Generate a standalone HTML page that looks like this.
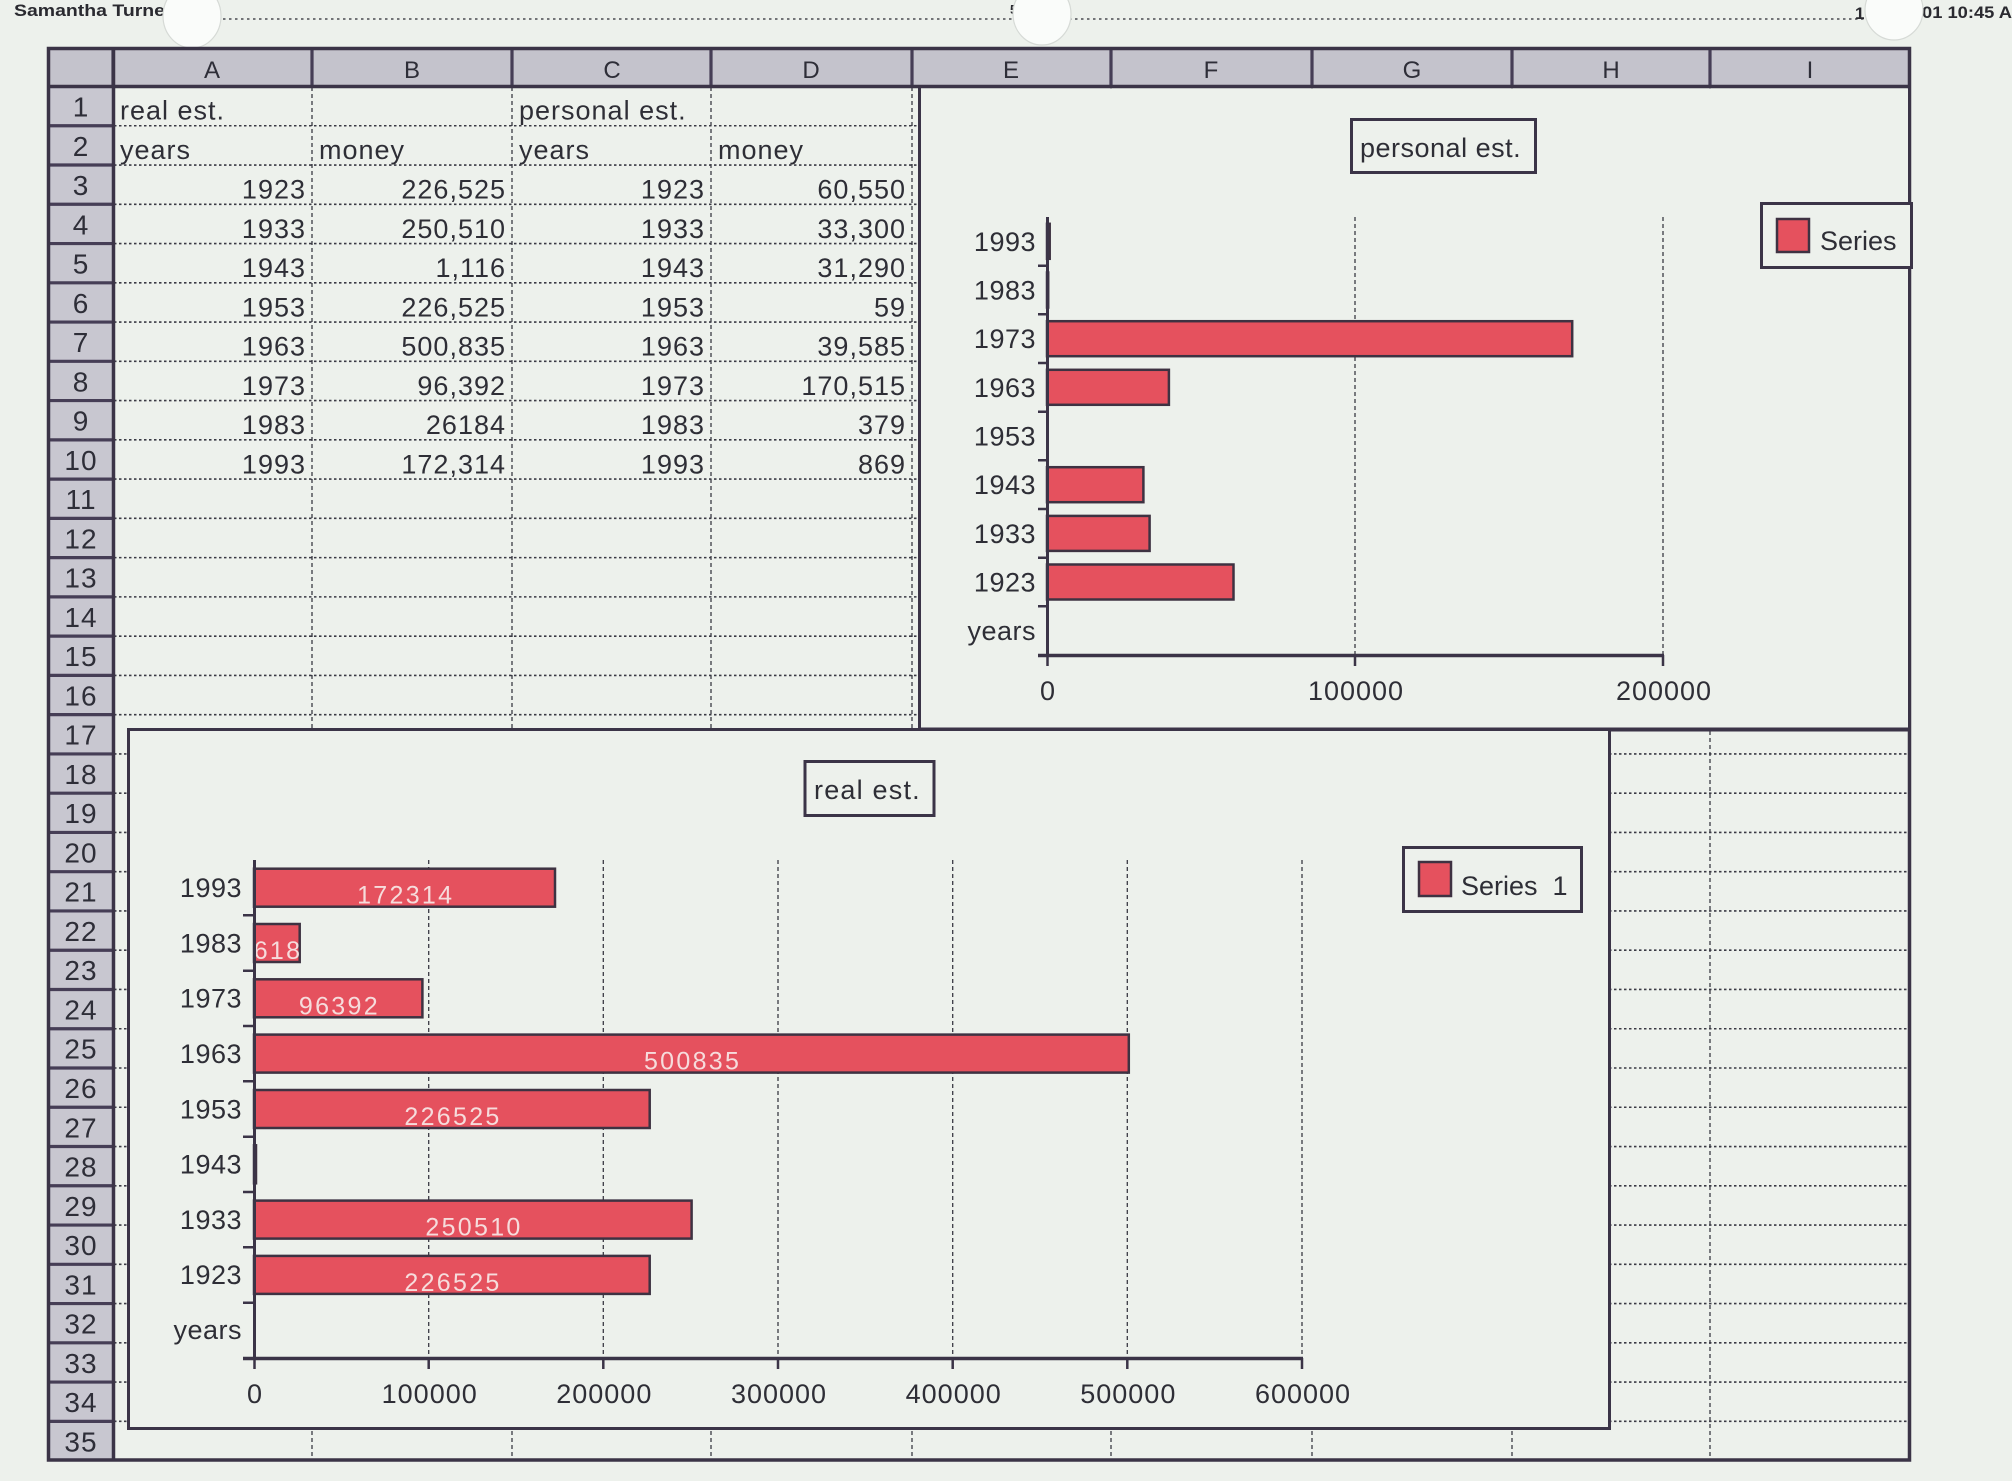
<!DOCTYPE html>
<html><head><meta charset="utf-8"><style>
html,body{margin:0;padding:0;background:#edf1ec;}
svg{display:block;}
text{font-family:"Liberation Sans",sans-serif;}
</style></head><body>
<svg width="2012" height="1481" viewBox="0 0 2012 1481" xmlns="http://www.w3.org/2000/svg">
<rect x="0" y="0" width="2012" height="1481" fill="#edf1ec"/>

<!-- page header -->
<line x1="205" y1="19" x2="1912" y2="19" stroke="#4a4a50" stroke-width="1.6" stroke-dasharray="2.5 3.5"/>
<text x="14" y="16" font-size="17" font-weight="bold" fill="#2a2a30" textLength="151" lengthAdjust="spacingAndGlyphs">Samantha Turne</text>
<text x="1010" y="14" font-size="13" font-weight="bold" fill="#2a2a30">5</text>
<text x="1855" y="19" font-size="17" font-weight="bold" fill="#2a2a30">1</text>
<text x="1922" y="18" font-size="17" font-weight="bold" fill="#2a2a30" textLength="90" lengthAdjust="spacingAndGlyphs">01 10:45 A</text>
<ellipse cx="192" cy="16" rx="29" ry="32" fill="#fafcfa" stroke="#d6dad6" stroke-width="1.2"/>
<ellipse cx="1042" cy="14" rx="29" ry="31" fill="#fafcfa" stroke="#d6dad6" stroke-width="1.2"/>
<ellipse cx="1894" cy="10" rx="29" ry="30" fill="#fafcfa" stroke="#d6dad6" stroke-width="1.2"/>

<!-- header row & row header backgrounds -->
<rect x="47" y="47" width="1863" height="40" fill="#c4c3cc"/>
<rect x="47" y="87" width="67" height="1374" fill="#c8c7d0"/>

<!-- cell gridlines -->
<path d="M114 125.76H1910M114 165.02H1910M114 204.28H1910M114 243.54H1910M114 282.8H1910M114 322.06H1910M114 361.32H1910M114 400.58H1910M114 439.84H1910M114 479.1H1910M114 518.36H1910M114 557.62H1910M114 596.88H1910M114 636.14H1910M114 675.4H1910M114 714.66H1910M114 753.92H1910M114 793.18H1910M114 832.44H1910M114 871.7H1910M114 910.96H1910M114 950.22H1910M114 989.48H1910M114 1028.74H1910M114 1068H1910M114 1107.26H1910M114 1146.52H1910M114 1185.78H1910M114 1225.04H1910M114 1264.3H1910M114 1303.56H1910M114 1342.82H1910M114 1382.08H1910M114 1421.34H1910" stroke="#3a3a44" stroke-width="1.6" stroke-dasharray="2.5 2.5" fill="none"/>
<path d="M312 87V1461M512 87V1461M711 87V1461M912 87V1461M1111 87V1461M1312 87V1461M1512 87V1461M1710 87V1461" stroke="#3a3a44" stroke-width="1.3" stroke-dasharray="4 3" fill="none"/>

<!-- row header separators -->
<path d="M47 125.76H114M47 165.02H114M47 204.28H114M47 243.54H114M47 282.8H114M47 322.06H114M47 361.32H114M47 400.58H114M47 439.84H114M47 479.1H114M47 518.36H114M47 557.62H114M47 596.88H114M47 636.14H114M47 675.4H114M47 714.66H114M47 753.92H114M47 793.18H114M47 832.44H114M47 871.7H114M47 910.96H114M47 950.22H114M47 989.48H114M47 1028.74H114M47 1068H114M47 1107.26H114M47 1146.52H114M47 1185.78H114M47 1225.04H114M47 1264.3H114M47 1303.56H114M47 1342.82H114M47 1382.08H114M47 1421.34H114" stroke="#463e56" stroke-width="3.2" fill="none"/>
<!-- column header separators -->
<path d="M113 47V87M312 47V87M512 47V87M711 47V87M912 47V87M1111 47V87M1312 47V87M1512 47V87M1710 47V87" stroke="#463e56" stroke-width="3.2" fill="none"/>
<line x1="47" y1="86.5" x2="1910" y2="86.5" stroke="#3b3447" stroke-width="3.5"/>
<line x1="113.5" y1="47" x2="113.5" y2="1461" stroke="#3b3447" stroke-width="3.5"/>
<rect x="48.5" y="48.5" width="1861" height="1411.5" fill="none" stroke="#3b3447" stroke-width="3.5"/>

<!-- column letters -->
<g font-size="24" fill="#2e2e38" text-anchor="middle">
<text x="212" y="78">A</text><text x="412" y="78">B</text><text x="612" y="78">C</text><text x="811" y="78">D</text><text x="1011" y="78">E</text><text x="1211" y="78">F</text><text x="1412" y="78">G</text><text x="1611" y="78">H</text><text x="1810" y="78">I</text>
</g>

<!-- row numbers -->
<g font-size="28" fill="#2e2e38" text-anchor="middle" letter-spacing="1">
<text x="81" y="116.5">1</text><text x="81" y="155.8">2</text><text x="81" y="195">3</text><text x="81" y="234.3">4</text><text x="81" y="273.5">5</text><text x="81" y="312.8">6</text><text x="81" y="352.1">7</text><text x="81" y="391.3">8</text><text x="81" y="430.6">9</text><text x="81" y="469.8">10</text><text x="81" y="509.1">11</text><text x="81" y="548.4">12</text><text x="81" y="587.6">13</text><text x="81" y="626.9">14</text><text x="81" y="666.1">15</text><text x="81" y="705.4">16</text><text x="81" y="744.7">17</text><text x="81" y="783.9">18</text><text x="81" y="823.2">19</text><text x="81" y="862.4">20</text><text x="81" y="901.7">21</text><text x="81" y="941">22</text><text x="81" y="980.2">23</text><text x="81" y="1019.5">24</text><text x="81" y="1058.7">25</text><text x="81" y="1098">26</text><text x="81" y="1137.3">27</text><text x="81" y="1176.5">28</text><text x="81" y="1215.8">29</text><text x="81" y="1255">30</text><text x="81" y="1294.3">31</text><text x="81" y="1333.6">32</text><text x="81" y="1372.8">33</text><text x="81" y="1412.1">34</text><text x="81" y="1451.3">35</text>
</g>

<!-- cell text -->
<g font-size="27" fill="#2e2e36" letter-spacing="1">
<text x="120" y="119.5">real est.</text>
<text x="519" y="119.5">personal est.</text>
<text x="120" y="158.8">years</text><text x="319" y="158.8">money</text><text x="519" y="158.8">years</text><text x="718" y="158.8">money</text>
</g>
<g font-size="27" fill="#2e2e36" letter-spacing="1" text-anchor="end">
<text x="306" y="198.5">1923</text><text x="506" y="198.5">226,525</text><text x="705" y="198.5">1923</text><text x="906" y="198.5">60,550</text>
<text x="306" y="237.8">1933</text><text x="506" y="237.8">250,510</text><text x="705" y="237.8">1933</text><text x="906" y="237.8">33,300</text>
<text x="306" y="277">1943</text><text x="506" y="277">1,116</text><text x="705" y="277">1943</text><text x="906" y="277">31,290</text>
<text x="306" y="316.3">1953</text><text x="506" y="316.3">226,525</text><text x="705" y="316.3">1953</text><text x="906" y="316.3">59</text>
<text x="306" y="355.6">1963</text><text x="506" y="355.6">500,835</text><text x="705" y="355.6">1963</text><text x="906" y="355.6">39,585</text>
<text x="306" y="394.8">1973</text><text x="506" y="394.8">96,392</text><text x="705" y="394.8">1973</text><text x="906" y="394.8">170,515</text>
<text x="306" y="434.1">1983</text><text x="506" y="434.1">26184</text><text x="705" y="434.1">1983</text><text x="906" y="434.1">379</text>
<text x="306" y="473.3">1993</text><text x="506" y="473.3">172,314</text><text x="705" y="473.3">1993</text><text x="906" y="473.3">869</text>
</g>

<!-- ============ CHART 1 : personal est. ============ -->
<rect x="918" y="88.5" width="991" height="641" fill="#edf1ec"/>
<line x1="919.5" y1="87" x2="919.5" y2="731" stroke="#3b3447" stroke-width="3"/>
<line x1="918" y1="729.5" x2="1910" y2="729.5" stroke="#3b3447" stroke-width="4"/>
<line x1="1909.5" y1="87" x2="1909.5" y2="731" stroke="#3b3447" stroke-width="3"/>

<rect x="1351.5" y="119.5" width="184" height="53" fill="#edf1ec" stroke="#3b3447" stroke-width="3"/>
<text x="1360" y="157" font-size="27" fill="#2e2e36" letter-spacing="0.5">personal est.</text>

<rect x="1761.5" y="203.5" width="150" height="64" fill="#edf1ec" stroke="#3b3447" stroke-width="3"/>
<rect x="1777" y="219" width="32" height="33" fill="#e5515e" stroke="#3e3242" stroke-width="2.5"/>
<text x="1820" y="250" font-size="27" fill="#2e2e36">Series</text>

<path d="M1355 217V655M1663 217V655" stroke="#3a3a44" stroke-width="1.3" stroke-dasharray="4 3" fill="none"/>

<g fill="#e5515e" stroke="#3e3242" stroke-width="2.5">
<rect x="1047" y="223.8" width="2.7" height="35"/>
<rect x="1047" y="272.5" width="1.2" height="35"/>
<rect x="1047" y="321.2" width="525.2" height="35"/>
<rect x="1047" y="369.8" width="121.9" height="35"/>
<rect x="1047" y="467.2" width="96.4" height="35"/>
<rect x="1047" y="515.9" width="102.6" height="35"/>
<rect x="1047" y="564.5" width="186.5" height="35"/>
</g>

<line x1="1047.5" y1="217" x2="1047.5" y2="657" stroke="#3b3447" stroke-width="3"/>
<line x1="1038" y1="655.5" x2="1664" y2="655.5" stroke="#3b3447" stroke-width="3.5"/>
<path d="M1038 265.7H1047M1038 314.3H1047M1038 363H1047M1038 411.7H1047M1038 460.3H1047M1038 509H1047M1038 557.7H1047M1038 606.3H1047M1047.5 655V666M1355 655V666M1663 655V666" stroke="#3b3447" stroke-width="2.5" fill="none"/>

<g font-size="27" fill="#2e2e36" text-anchor="end" letter-spacing="0.5">
<text x="1036" y="251">1993</text><text x="1036" y="299.5">1983</text><text x="1036" y="348.2">1973</text><text x="1036" y="396.8">1963</text><text x="1036" y="445.5">1953</text><text x="1036" y="494.2">1943</text><text x="1036" y="542.9">1933</text><text x="1036" y="591.5">1923</text><text x="1036" y="640">years</text>
</g>
<g font-size="27" fill="#2e2e36" text-anchor="middle" letter-spacing="1">
<text x="1048" y="700">0</text><text x="1356" y="700">100000</text><text x="1664" y="700">200000</text>
</g>

<!-- ============ CHART 2 : real est. ============ -->
<rect x="128.5" y="729.5" width="1481" height="699" fill="#edf1ec" stroke="#3b3447" stroke-width="3"/>

<rect x="805" y="761.5" width="129" height="54" fill="#edf1ec" stroke="#3b3447" stroke-width="3"/>
<text x="814" y="799" font-size="27" fill="#2e2e36" letter-spacing="1.2">real est.</text>

<rect x="1403.5" y="847.5" width="178" height="64" fill="#edf1ec" stroke="#3b3447" stroke-width="3"/>
<rect x="1419" y="862" width="32" height="34" fill="#e5515e" stroke="#3e3242" stroke-width="2.5"/>
<text x="1461" y="895" font-size="27" fill="#2e2e36" xml:space="preserve">Series  1</text>

<path d="M428.7 860V1358M603.3 860V1358M778 860V1358M952.7 860V1358M1127.3 860V1358M1302 860V1358" stroke="#3a3a44" stroke-width="1.3" stroke-dasharray="4 3" fill="none"/>

<defs>
<clipPath id="b1"><rect x="254" y="868.7" width="301" height="38"/></clipPath>
<clipPath id="b2"><rect x="254" y="924" width="45.7" height="38"/></clipPath>
<clipPath id="b3"><rect x="254" y="979.3" width="168.4" height="38"/></clipPath>
<clipPath id="b4"><rect x="254" y="1034.6" width="874.8" height="38"/></clipPath>
<clipPath id="b5"><rect x="254" y="1090" width="395.7" height="38"/></clipPath>
<clipPath id="b7"><rect x="254" y="1200.6" width="437.6" height="38"/></clipPath>
<clipPath id="b8"><rect x="254" y="1255.9" width="395.7" height="38"/></clipPath>
</defs>

<g fill="#e5515e" stroke="#3e3242" stroke-width="2.5">
<rect x="254" y="868.7" width="301" height="38"/>
<rect x="254" y="924" width="45.7" height="38"/>
<rect x="254" y="979.3" width="168.4" height="38"/>
<rect x="254" y="1034.6" width="874.8" height="38"/>
<rect x="254" y="1090" width="395.7" height="38"/>
<rect x="254" y="1145.3" width="2" height="38"/>
<rect x="254" y="1200.6" width="437.6" height="38"/>
<rect x="254" y="1255.9" width="395.7" height="38"/>
</g>

<g font-size="25" fill="#f6dcdc" text-anchor="middle" letter-spacing="2.3">
<text x="405.7" y="903.5" clip-path="url(#b1)">172314</text>
<text x="278" y="959" clip-path="url(#b2)">26184</text>
<text x="339.4" y="1014.3" clip-path="url(#b3)">96392</text>
<text x="692.6" y="1069.6" clip-path="url(#b4)">500835</text>
<text x="453" y="1125" clip-path="url(#b5)">226525</text>
<text x="474" y="1235.6" clip-path="url(#b7)">250510</text>
<text x="453" y="1290.9" clip-path="url(#b8)">226525</text>
</g>

<line x1="254.5" y1="860" x2="254.5" y2="1360" stroke="#3b3447" stroke-width="3"/>
<line x1="243" y1="1358.5" x2="1303" y2="1358.5" stroke="#3b3447" stroke-width="3.5"/>
<path d="M243 915.3H254M243 970.7H254M243 1026H254M243 1081.3H254M243 1136.7H254M243 1192H254M243 1247.3H254M243 1302.7H254M254.5 1358V1369M428.7 1358V1369M603.3 1358V1369M778 1358V1369M952.7 1358V1369M1127.3 1358V1369M1302 1358V1369" stroke="#3b3447" stroke-width="2.5" fill="none"/>

<g font-size="27" fill="#2e2e36" text-anchor="end" letter-spacing="0.5">
<text x="242" y="897">1993</text><text x="242" y="952.3">1983</text><text x="242" y="1007.6">1973</text><text x="242" y="1062.9">1963</text><text x="242" y="1118.3">1953</text><text x="242" y="1173.6">1943</text><text x="242" y="1228.9">1933</text><text x="242" y="1284.2">1923</text><text x="242" y="1339">years</text>
</g>
<g font-size="27" fill="#2e2e36" text-anchor="middle" letter-spacing="1">
<text x="255" y="1403">0</text><text x="429.7" y="1403">100000</text><text x="604.3" y="1403">200000</text><text x="779" y="1403">300000</text><text x="953.7" y="1403">400000</text><text x="1128.3" y="1403">500000</text><text x="1303" y="1403">600000</text>
</g>
</svg>
</body></html>
